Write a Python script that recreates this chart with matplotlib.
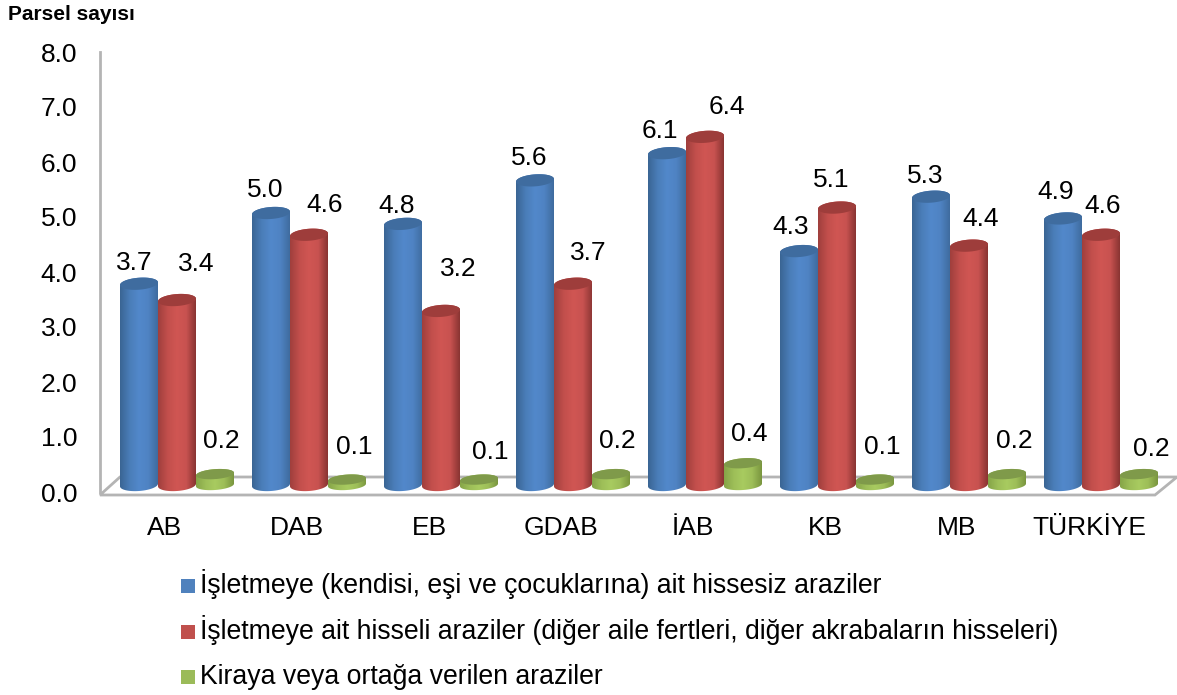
import matplotlib
matplotlib.use("Agg")
import matplotlib.pyplot as plt
import numpy as np
from matplotlib.colors import LinearSegmentedColormap
from matplotlib.patches import PathPatch, Polygon, Rectangle
from matplotlib.path import Path

plt.rcParams["font.family"] = ["Liberation Sans", "DejaVu Sans"]

regions = ["AB", "DAB", "EB", "GDAB", "İAB", "KB", "MB", "TÜRKİYE"]
hissesiz = [3.7, 5.0, 4.8, 5.6, 6.1, 4.3, 5.3, 4.9]
hisseli = [3.4, 4.6, 3.2, 3.7, 6.4, 5.1, 4.4, 4.6]
kiraya = [0.2, 0.1, 0.1, 0.2, 0.4, 0.1, 0.2, 0.2]
legend_labels = [
    "İşletmeye (kendisi, eşi ve çocuklarına) ait hissesiz araziler",
    "İşletmeye ait hisseli araziler (diğer aile fertleri, diğer akrabaların hisseleri)",
    "Kiraya veya ortağa verilen araziler",
]

W, H = 1177, 695
PX_X = 132.0  # pixels per category
PX_Y = 55.0  # pixels per unit on the value axis
AX_LEFT, AX_BOTTOM, AX_TOP = 100, 492, 52
GROUP0 = 177  # pixel of first group centre
BAR_W = 38 / PX_X

# label nudges in pixels, the labels were placed by hand in the original
series = [
    dict(values=hissesiz, off=-1, base=485, ry=6,
         cols=["#3A6594", "#4A7DB8", "#5288CB", "#4F83C3", "#3F6C9F"], top="#3F6C9F",
         dx=[-5, -6, -6, -6, -7, -8, -6, -7], dy=[21, 23, 18, 22, 22, 24, 21, 26]),
    dict(values=hisseli, off=0, base=485, ry=6,
         cols=["#A03F3D", "#C24F4C", "#D05653", "#C85250", "#8A3533"], top="#9E3D3B",
         dx=[19, 16, 17, 15, 22, -6, 12, 2], dy=[36, 30, 42, 31, 30, 28, 27, 29]),
    dict(values=kiraya, off=1, base=485, ry=5,
         cols=["#86A548", "#9DBE58", "#A8CB60", "#9DBE58", "#7A963F"], top="#7F9A4A",
         dx=[6, 7, 11, 6, 6, 7, 7, 12], dy=[33, 33, 28, 33, 29, 33, 33, 25]),
]
swatches = ["#4F81BD", "#C0504D", "#9BBB59"]
legend_baselines = [593, 639, 684]


def cylinder(ax, cx, value, s, z):
    rx = BAR_W / 2
    y0 = (AX_BOTTOM - s["base"]) / PX_Y
    y1 = y0 + value * 54.4 / PX_Y
    ry = s["ry"] / PX_Y
    tilt = 0.07 * PX_X / PX_Y

    t = np.linspace(np.pi, 2 * np.pi, 40)
    low_x = cx + rx * np.cos(t)
    low_y = y0 + ry * np.sin(t) + tilt * rx * np.cos(t)
    t2 = np.linspace(0, np.pi, 40)
    up_x = cx + rx * np.cos(t2)
    up_y = y1 + ry * np.sin(t2) + tilt * rx * np.cos(t2)
    body = PathPatch(Path(np.column_stack([np.r_[low_x, up_x], np.r_[low_y, up_y]])),
                     fc="none", ec="none", transform=ax.transData, zorder=z)
    ax.add_patch(body)

    cmap = LinearSegmentedColormap.from_list("c", s["cols"])
    im = ax.imshow(np.linspace(0, 1, 64)[None, :], cmap=cmap, aspect="auto",
                   extent=[cx - rx, cx + rx, y0 - 3 * ry, y1 + 3 * ry], zorder=z)
    im.set_clip_path(body)

    t3 = np.linspace(0, 2 * np.pi, 80)
    top = np.column_stack([cx + rx * np.cos(t3),
                           y1 + ry * np.sin(t3) + tilt * rx * np.cos(t3)])
    ax.add_patch(Polygon(top, closed=True, fc=s["top"], ec="none", zorder=z + 0.1))
    return y1


fig = plt.figure(figsize=(W / 100, H / 100), dpi=100, facecolor="white")
ax = fig.add_axes([AX_LEFT / W, 1 - AX_BOTTOM / H, 1 - AX_LEFT / W, (AX_BOTTOM - AX_TOP) / H])
ax.patch.set_alpha(0)

xmin = (AX_LEFT - GROUP0) / PX_X
xmax = (W - GROUP0) / PX_X

# floor of the 3d box
floor_px = [(100, 495), (1155, 495), (1177, 477), (120, 477)]
floor = [((px - GROUP0) / PX_X, (AX_BOTTOM - py) / PX_Y) for px, py in floor_px]
ax.add_patch(Polygon(floor, closed=True, fc="white", ec="#b4b4b4", lw=2,
                     clip_on=False, zorder=1))

z = 2
for i in range(len(regions)):
    for s in series:
        v = s["values"][i]
        cx = i + s["off"] * BAR_W
        y1 = cylinder(ax, cx, v, s, z)
        z += 1
        ax.annotate(f"{v:.1f}", (cx, y1), xytext=(s["dx"][i], s["dy"][i]),
                    textcoords="offset pixels", ha="center", va="center",
                    fontsize=19, color="black", zorder=100, annotation_clip=False)

ax.set_xlim(xmin, xmax)
ax.set_ylim(0, 8)
ax.set_yticks(np.arange(0, 9))
ax.set_yticklabels([f"{v:.1f}" for v in np.arange(0, 9)], fontsize=19)
ax.set_xticks(np.arange(len(regions)) - 12 / PX_X)
ax.set_xticklabels(regions, fontsize=19)
ax.tick_params(axis="y", length=0, pad=16.5)
ax.tick_params(axis="x", length=0, pad=17)
for name in ["top", "right", "bottom"]:
    ax.spines[name].set_visible(False)
ax.spines["left"].set_color("#b4b4b4")
ax.spines["left"].set_linewidth(2)

fig.text(8 / W, 1 - 14 / H, "Parsel sayısı", fontsize=15, fontweight="bold",
         ha="left", va="center")

# legend rows are not evenly spaced by fig.legend, so they are placed one by one
for label, color, base in zip(legend_labels, swatches, legend_baselines):
    fig.add_artist(Rectangle((181 / W, 1 - base / H), 14 / W, 14 / H, fc=color, ec="none",
                             transform=fig.transFigure))
    fig.text(200 / W, 1 - base / H, label, fontsize=19.15, ha="left", va="baseline")

fig.savefig("out.png", dpi=100, facecolor="white")
